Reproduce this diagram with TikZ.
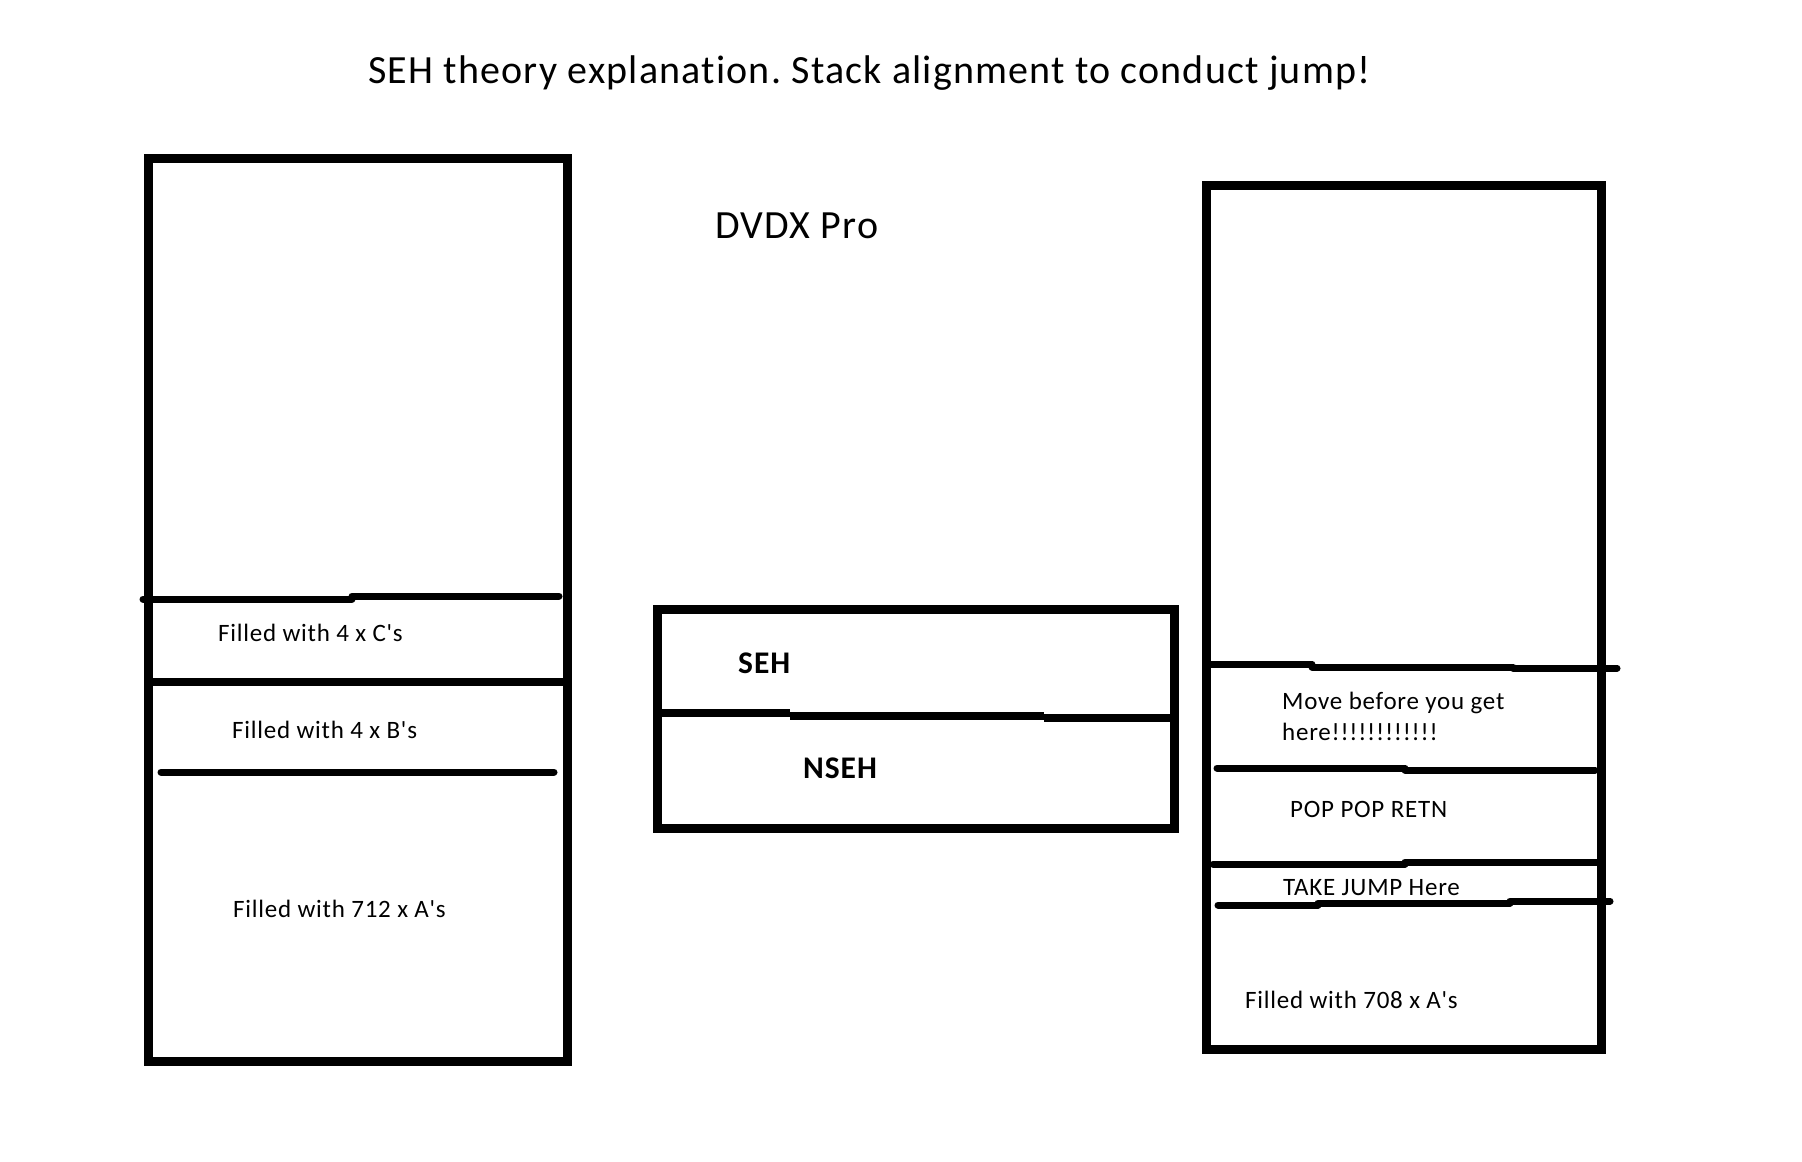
\documentclass[tikz,border=0pt]{standalone}
\usepackage{fontspec}
\setmainfont{Carlito}[Ligatures={TeXOff,NoCommon},LetterSpace=3]
\frenchspacing
\begin{document}
\begin{tikzpicture}[x=1pt,y=-1pt,
  box/.style={draw=black,line width=9pt,line join=miter},
  divline/.style={draw=black,line width=7pt,line cap=round},
  boxdiv/.style={draw=black,line width=8.5pt,line cap=butt},
  lbl/.style={anchor=base west,inner sep=0pt,font=\fontsize{25}{31}\selectfont},
  bold/.style={anchor=base west,inner sep=0pt,font=\fontsize{31.5}{38}\selectfont\bfseries},
  big/.style={anchor=base west,inner sep=0pt,font=\fontsize{40}{48}\selectfont}]
\useasboundingbox[fill=white] (0,0) rectangle (1802,1162);

% title
\node[big] (title) at (368,83) {SEH theory explanation. Stack alignment to conduct jump!};
\node[big] (dvdx) at (715,238) {DVDX Pro};

% left stack
\draw[box] (148.5,158.5) rectangle (567,1061);
\draw[divline] (143,599) -- (352,599);
\draw[divline] (352,596) -- (559,596);
\draw[boxdiv] (148.5,682) -- (567,682);
\draw[divline] (161,772) -- (554,772);
\node[lbl] (cs) at (218,641) {Filled with 4 x C's};
\node[lbl] (bs) at (232,738) {Filled with 4 x B's};
\node[lbl] (as) at (233,917) {Filled with 712 x A's};

% middle SEH/NSEH
\draw[box] (657,609) rectangle (1174,828);
\draw[boxdiv] (657,713) -- (790,713);
\draw[boxdiv] (790,716) -- (1044,716);
\draw[boxdiv] (1044,718) -- (1174,718);
\node[bold] (seh) at (738,673) {SEH};
\node[bold] (nseh) at (803,778) {NSEH};

% right stack
\draw[box] (1206.5,185) rectangle (1601,1049.5);
\draw[divline] (1210,664) -- (1312,664);
\draw[divline] (1312,667) -- (1513,667);
\draw[divline] (1513,668) -- (1617,668);
\draw[divline] (1217,768) -- (1405,768);
\draw[divline] (1405,770) -- (1595,770);
\draw[divline] (1213,864) -- (1405,864);
\draw[divline] (1405,862) -- (1597,862);
\draw[divline] (1218,905) -- (1318,905);
\draw[divline] (1318,903) -- (1510,903);
\draw[divline] (1510,901) -- (1610,901);
\node[lbl] (move1) at (1282,709) {Move before you get};
\node[lbl] (move2) at (1282,740) {here!!!!!!!!!!!!};
\node[lbl] (pop) at (1290,817) {POP POP RETN};
\node[lbl] (jump) at (1283,895) {TAKE JUMP Here};
\node[lbl] (as2) at (1245,1008) {Filled with 708 x A's};
\end{tikzpicture}
\end{document}
